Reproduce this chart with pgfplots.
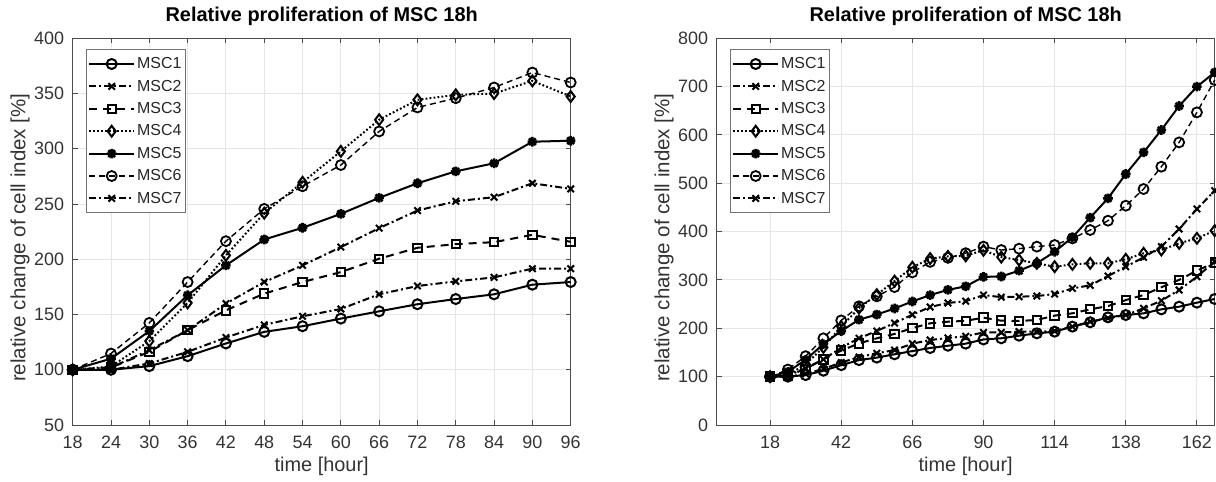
\documentclass[border=0pt]{standalone}
\usepackage{fontspec}
\setmainfont{Liberation Sans}
\usepackage{pgfplots}
\pgfplotsset{compat=1.18}
\usepackage{pgfplotstable}

\pgfdeclareplotmark{mstar}{%
  \pgfpathmoveto{\pgfqpoint{-\pgfplotmarksize}{0pt}}\pgfpathlineto{\pgfqpoint{\pgfplotmarksize}{0pt}}%
  \pgfpathmoveto{\pgfqpoint{0pt}{-\pgfplotmarksize}}\pgfpathlineto{\pgfqpoint{0pt}{\pgfplotmarksize}}%
  \pgfpathmoveto{\pgfqpoint{-0.707\pgfplotmarksize}{-0.707\pgfplotmarksize}}\pgfpathlineto{\pgfqpoint{0.707\pgfplotmarksize}{0.707\pgfplotmarksize}}%
  \pgfpathmoveto{\pgfqpoint{-0.707\pgfplotmarksize}{0.707\pgfplotmarksize}}\pgfpathlineto{\pgfqpoint{0.707\pgfplotmarksize}{-0.707\pgfplotmarksize}}%
  \pgfusepathqstroke}

\pgfplotstableread{
t m1 m2 m3 m4 m5 m6 m7
18 100 100 100 100 100 100 100
24 100 100 102 103 110 114.7 102
30 103.3 105.7 116.2 125.9 135 142.4 117.7
36 112.3 116.2 135.8 160.5 167.4 179.4 135.8
42 123.8 129.2 153.8 203.5 194.5 216.4 159.9
48 134.3 140.6 168.9 241.7 217.9 245.6 179.4
54 139.4 148.4 179.4 269.7 228.5 266.1 194.5
60 146.3 155 188.4 297.7 241.1 285.3 211
66 152.9 168.3 200.5 326.3 255.6 315.7 228.2
72 159.3 175.8 210.4 344.3 268.8 337.4 244.1
78 164 180 213.7 348.8 279.6 345.8 252.5
84 168.3 183.6 215.5 350 286.9 355.5 256.2
90 177 191.5 222.1 361.5 306.4 369 268.8
96 179.4 191.5 215.8 347.3 307.3 360 263.7
}\shortdata

\pgfplotstableread{
t m1 m2 m3 m4 m5 m6 m7
18 100 100 100 100 100 100 100
24 100 100 102 103 110 114.7 102
30 103.3 105.7 116.2 125.9 135 142.4 117.7
36 112.3 116.2 135.8 160.5 167.4 179.4 135.8
42 123.8 129.2 153.8 203.5 194.5 216.4 159.9
48 134.3 140.6 168.9 241.7 217.9 245.6 179.4
54 139.4 148.4 179.4 269.7 228.5 266.1 194.5
60 146.3 155 188.4 297.7 241.1 285.3 211
66 152.9 168.3 200.5 326.3 255.6 315.7 228.2
72 159.3 175.8 210.4 344.3 268.8 337.4 244.1
78 164 180 213.7 348.8 279.6 345.8 252.5
84 168.3 183.6 215.5 350 286.9 355.5 256.2
90 177 191.5 222.1 361.5 306.4 369 268.8
96 179.4 191.5 215.8 347.3 307.3 362 264.5
102 184.8 193.1 215.2 341.3 319.3 364.8 265.4
108 189.6 193.1 217.3 334.4 334.4 369 266.8
114 193.1 194.5 226.3 327.5 358.5 372.4 270.9
120 203.5 203.5 231.1 332.3 388.2 386 282.6
126 212.5 213.9 239.4 334.4 429 403.4 289
132 222.7 220.7 246 334.5 469 422.7 308.2
138 227.5 227.5 258.5 342.8 519.2 453.7 327.5
144 231 241.3 268.9 355.2 564 488.2 346.8
150 239.3 257.2 284.9 362.1 610.3 534.4 368.9
156 244.8 279.3 300.3 375.9 660 584.7 405.5
162 253.1 306.8 319.3 386.2 700 646.8 446.9
168 260.7 338 336 402.1 729.5 713.7 484.8
}\longdata

\pgfplotsset{
  base/.style={
    scale only axis, width=249bp, height=193.35bp,
    clip=false,
    axis line style={black!70, line width=0.5bp},
    tick style={black!70, line width=0.5bp},
    major tick length=2.5bp,
    tick align=inside, tick pos=both,
    grid=major, major grid style={black!10, line width=0.5bp},
    tick label style={font=\fontsize{9}{10}\selectfont, text=black!80},
    /pgf/number format/assume math mode=true,
    /pgf/number format/1000 sep={},
    xticklabel style={anchor=base, yshift=-11.75bp},
    yticklabel style={xshift=-0.8bp},
    every axis title shift=0pt,
    title style={font=\bfseries\fontsize{10}{12}\selectfont, at={(axis description cs:0.5,1.044)}, anchor=base},
    xlabel style={font=\fontsize{10}{12}\selectfont, text=black!80, at={(axis description cs:0.5,-0.1215)}, anchor=base},
    ylabel style={font=\fontsize{10.3}{12}\selectfont, text=black!80, at={(axis description cs:-0.1058,0.4845)}, anchor=center},
    title={Relative proliferation of MSC 18h},
    xlabel={time [hour]},
    ylabel={relative change of cell index [\%]},
    legend cell align=left,
    legend style={at={(axis description cs:0,1)}, anchor=north west, xshift=6.5bp, yshift=-5.5bp,
      draw=black!55, line width=0.5bp, fill=white,
      font=\fontsize{8}{9}\selectfont, text=black!85,
      inner xsep=1bp, inner ysep=1.5bp, row sep=0pt,
      nodes={inner xsep=1bp, inner ysep=1.7bp, text height=6.2bp, text depth=1.6bp}},
    legend image code/.code={\draw[mark repeat=2, mark phase=2] plot coordinates {(0bp,0bp) (11.25bp,0bp) (22.5bp,0bp)};},
  },
  s1/.style={black, line width=1bp, solid, mark=o, mark size=2.5bp, mark options={solid}},
  s2/.style={black, line width=1bp, dash pattern=on 3.5bp off 1.5bp on 1bp off 1.5bp, mark=x, mark size=2.3bp, mark options={solid}},
  s3/.style={black, line width=1bp, dash pattern=on 4bp off 3bp, mark=square, mark size=2.1bp, mark options={solid}},
  s4/.style={black, line width=1bp, dash pattern=on 0.9bp off 1.1bp, mark=diamond, mark size=2.7bp, mark options={solid}},
  s5/.style={black, line width=1bp, solid, mark=mstar, mark size=2.4bp, mark options={solid, line width=1.3bp}},
  s6/.style={black, line width=0.7bp, dash pattern=on 3bp off 2bp, mark=o, mark size=2.5bp, mark options={solid, line width=0.9bp}},
  s7/.style={black, line width=1bp, dash pattern=on 3.5bp off 1.5bp on 1bp off 1.5bp, mark=x, mark size=2.3bp, mark options={solid}},
}

\begin{document}
\begin{tikzpicture}
\begin{axis}[base, at={(0,0)},
  xmin=18, xmax=96, ymin=50, ymax=400,
  xtick={18,24,...,96}, ytick={50,100,...,400}]
\addplot[s1] table[x=t,y=m1] {\shortdata};
\addplot[s2] table[x=t,y=m2] {\shortdata};
\addplot[s3] table[x=t,y=m3] {\shortdata};
\addplot[s4] table[x=t,y=m4] {\shortdata};
\addplot[s5] table[x=t,y=m5] {\shortdata};
\addplot[s6] table[x=t,y=m6] {\shortdata};
\addplot[s7] table[x=t,y=m7] {\shortdata};
\legend{MSC1,MSC2,MSC3,MSC4,MSC5,MSC6,MSC7}
\end{axis}
\begin{axis}[base, at={(322bp,0)},
  xmin=0, xmax=168, ymin=0, ymax=800,
  xtick={18,42,...,162}, ytick={0,100,...,800}]
\addplot[s1] table[x=t,y=m1] {\longdata};
\addplot[s2] table[x=t,y=m2] {\longdata};
\addplot[s3] table[x=t,y=m3] {\longdata};
\addplot[s4] table[x=t,y=m4] {\longdata};
\addplot[s5] table[x=t,y=m5] {\longdata};
\addplot[s6] table[x=t,y=m6] {\longdata};
\addplot[s7] table[x=t,y=m7] {\longdata};
\legend{MSC1,MSC2,MSC3,MSC4,MSC5,MSC6,MSC7}
\end{axis}
\pgfresetboundingbox
\path[use as bounding box] (-36.35bp,-28.5bp) rectangle (571.65bp,212.5bp);
\end{tikzpicture}
\end{document}
